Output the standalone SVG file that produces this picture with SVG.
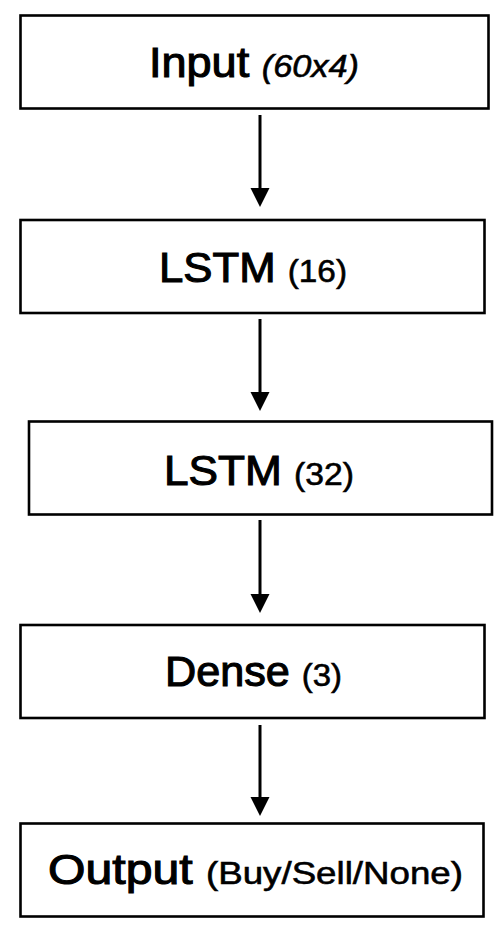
<svg xmlns="http://www.w3.org/2000/svg" width="504" height="940" viewBox="0 0 504 940">
<style>
.box{fill:#fff;stroke:#000;stroke-width:2.6}
.lbl{font-family:"Liberation Sans",Arial,Helvetica,sans-serif;font-weight:normal;font-size:42px;fill:#000;stroke:#000;stroke-width:1.1;text-anchor:middle}
.sub{font-size:32px;stroke-width:0.6}
.it{font-style:italic}
.edge{stroke:#000;stroke-width:3;fill:none}
</style>
<defs>
<marker id="ah" markerUnits="userSpaceOnUse" markerWidth="20" markerHeight="20" refX="4" refY="9.5" orient="auto" viewBox="0 0 20 19">
<path d="M0,0 L19,9.5 L0,19 z" fill="#000"/>
</marker>
</defs>
<rect width="504" height="940" fill="#fff"/>
<g id="connectors">
<line class="edge" x1="260" y1="115" x2="260" y2="192" marker-end="url(#ah)"/>
<line class="edge" x1="260" y1="319" x2="260" y2="396" marker-end="url(#ah)"/>
<line class="edge" x1="260" y1="520" x2="260" y2="598" marker-end="url(#ah)"/>
<line class="edge" x1="260" y1="725" x2="260" y2="801" marker-end="url(#ah)"/>
</g>
<g id="input">
<rect class="box" x="20.5" y="15.5" width="468" height="93"/>
<text class="lbl" x="254" y="77" textLength="210" lengthAdjust="spacingAndGlyphs">Input <tspan class="sub it">(60x4)</tspan></text>
</g>
<g id="lstm16">
<rect class="box" x="20.5" y="220" width="464" height="93"/>
<text class="lbl" x="253" y="282" textLength="188" lengthAdjust="spacingAndGlyphs">LSTM <tspan class="sub">(16)</tspan></text>
</g>
<g id="lstm32">
<rect class="box" x="29" y="421.5" width="463" height="93"/>
<text class="lbl" x="259" y="485" textLength="190" lengthAdjust="spacingAndGlyphs">LSTM <tspan class="sub">(32)</tspan></text>
</g>
<g id="dense">
<rect class="box" x="20.5" y="625" width="464" height="93"/>
<text class="lbl" x="253.5" y="686" textLength="177" lengthAdjust="spacingAndGlyphs">Dense <tspan class="sub">(3)</tspan></text>
</g>
<g id="output">
<rect class="box" x="20.5" y="823.5" width="463" height="93"/>
<text class="lbl" x="255.5" y="884" textLength="415" lengthAdjust="spacingAndGlyphs">Output <tspan class="sub">(Buy/Sell/None)</tspan></text>
</g>
</svg>
